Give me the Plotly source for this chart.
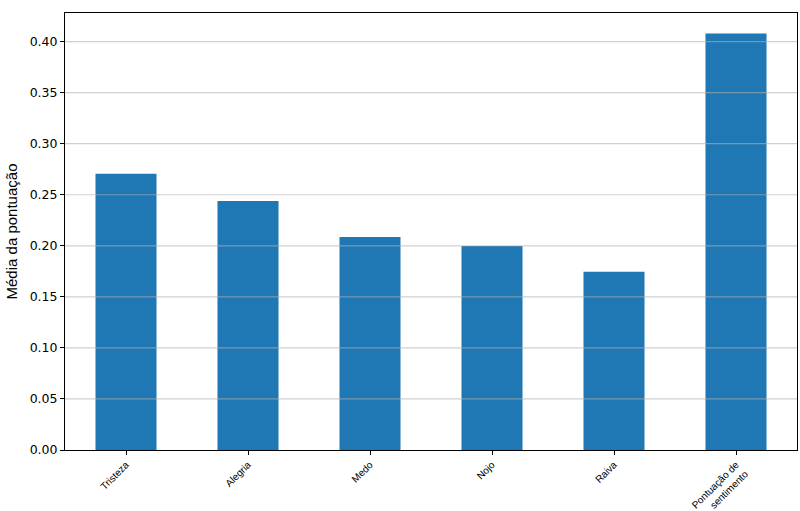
import plotly.graph_objects as go

categories = ["Tristeza", "Alegria", "Medo", "Nojo", "Raiva", "Pontuação de<br>sentimento"]
values = [0.2706, 0.2438, 0.2085, 0.1997, 0.1745, 0.4078]
y_ticks = [0.0, 0.05, 0.10, 0.15, 0.20, 0.25, 0.30, 0.35, 0.40]
y_tick_labels = ["0.00", "0.05", "0.10", "0.15", "0.20", "0.25", "0.30", "0.35", "0.40"]

fig = go.Figure(go.Bar(
    x=list(range(len(categories))),
    y=values,
    width=0.5,
    marker=dict(color="#1f77b4", line=dict(width=0)),
))

# grid lines drawn above the bars (as in the reference)
for t in y_ticks[1:]:
    fig.add_shape(type="line", xref="x domain", yref="y", x0=0, x1=1, y0=t, y1=t,
                  line=dict(color="rgba(176,176,176,0.6)", width=1.2), layer="above")

fig.update_layout(
    template="none",
    width=800, height=511,
    margin=dict(l=65, r=3, t=13, b=61, pad=0, autoexpand=False),
    plot_bgcolor="white", paper_bgcolor="white",
    showlegend=False,
    font=dict(family="DejaVu Sans", color="black"),
)
fig.update_xaxes(
    automargin=False,
    range=[-0.5, 5.5],
    tickvals=list(range(len(categories))),
    ticktext=categories,
    tickangle=-45,
    tickfont=dict(family="Liberation Sans", size=10),
    showline=True, linecolor="black", linewidth=1, mirror=True,
    ticks="outside", ticklen=4, tickcolor="black",
    showgrid=False, zeroline=False,
)
fig.update_yaxes(
    automargin=False,
    range=[0, 0.428],
    tickvals=y_ticks,
    ticktext=y_tick_labels,
    tickfont=dict(family="DejaVu Sans", size=12.5),
    title=dict(text="Média da pontuação", font=dict(family="Liberation Sans", size=15), standoff=8),
    showline=True, linecolor="black", linewidth=1, mirror=True,
    ticks="outside", ticklen=4, tickcolor="black",
    showgrid=False,
    zeroline=False,
    layer="above traces",
)

fig.write_html("out.html", config={"displayModeBar": False},
               post_script="document.body.style.margin='0';document.body.style.padding='0';")
